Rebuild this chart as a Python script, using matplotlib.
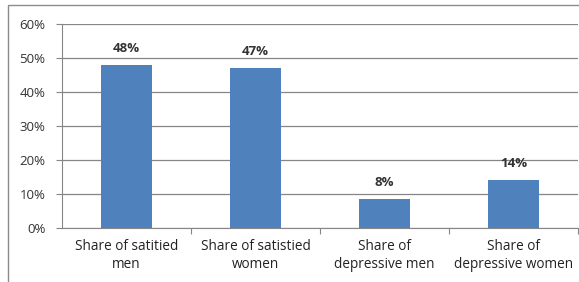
import matplotlib.pyplot as plt
from matplotlib.patches import Rectangle
from matplotlib.ticker import FuncFormatter

categories = ["Share of satitied\nmen", "Share of satistied\nwomen",
              "Share of\ndepressive men", "Share of\ndepressive women"]
values = [48, 47, 8.4, 14]
labels = ["48%", "47%", "8%", "14%"]

plt.rcParams["font.family"] = ["Open Sans", "DejaVu Sans"]

W, H = 579, 282
fig = plt.figure(figsize=(W / 100, H / 100), dpi=100)
ax = fig.add_axes([62 / W, 1 - 228 / H, (578 - 62) / W, (228 - 24) / H])

# outer chart frame (open on the right and bottom)
fig.patches.append(Rectangle((8 / W, -0.05), 1.0, 1.05 - 5 / H,
                             transform=fig.transFigure, fill=False,
                             edgecolor="#8c8c8c", linewidth=1))

x = range(len(categories))
ax.bar(x, values, width=0.4, color="#4f81bd", zorder=3)
for i, v in enumerate(values):
    ax.text(i, v + 3, labels[i], ha="center", va="bottom",
            fontsize=9.5, fontweight="bold", color="#333333", zorder=4)

ax.set_xlim(-0.5, 3.5)
ax.set_ylim(0, 60)
ax.set_yticks(range(0, 61, 10))
ax.yaxis.set_major_formatter(FuncFormatter(lambda v, p: f"{v:.0f}%"))
ax.yaxis.grid(True, color="#868686", linewidth=0.9, zorder=0)
ax.set_xticks([0.5, 1.5, 2.5, 3.5])
ax.set_xticklabels([])
ax.tick_params(axis="x", length=4, color="#868686", direction="out")
ax.tick_params(axis="y", length=4, color="#868686", labelsize=9.5,
               labelcolor="#333333", pad=8)
for i, c in enumerate(categories):
    ax.text(i, -3.2, c, ha="center", va="top", fontsize=9.8,
            color="#222222", linespacing=1.3)

for s in ["top", "right"]:
    ax.spines[s].set_visible(False)
ax.spines["left"].set_color("#868686")
ax.spines["bottom"].set_color("#868686")

fig.savefig("out.png", dpi=100)
